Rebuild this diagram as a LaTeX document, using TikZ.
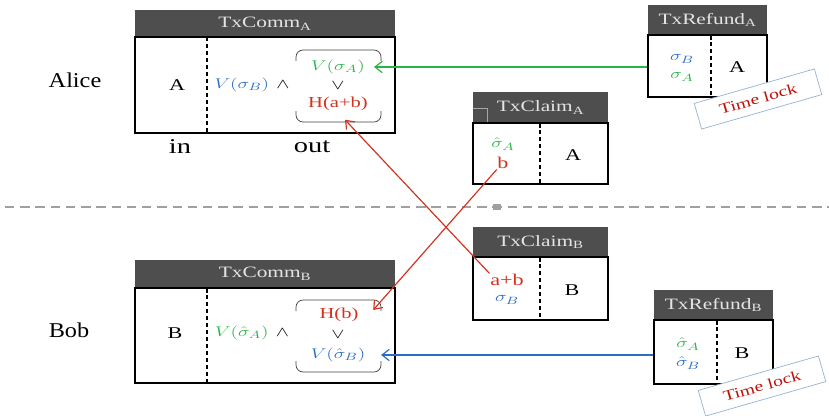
\documentclass[tikz,border=0pt]{standalone}
\usepackage{fontspec}
\setmainfont{Liberation Serif}[FakeStretch=1.35]
\newfontfamily\namefont{Liberation Serif}[FakeStretch=1.15]
\usepackage{graphicx}
\usetikzlibrary{arrows.meta,fit}

\definecolor{hdrgray}{RGB}{78,78,78}
\definecolor{hdrtext}{RGB}{228,228,228}
\definecolor{sgreen}{RGB}{40,180,70}
\definecolor{sblue}{RGB}{45,110,195}
\definecolor{sred}{RGB}{210,50,30}
\definecolor{lockred}{RGB}{190,20,10}
\definecolor{lockblue}{RGB}{150,180,210}
\definecolor{sepgray}{RGB}{160,160,160}

\newcommand{\wm}[1]{\scalebox{1.4}[1]{$#1$}}

\begin{document}
\begin{tikzpicture}[x=0.3mm,y=-0.3mm,
  hdr/.style={fill=hdrgray, inner sep=0pt},
  body/.style={draw, line width=1pt, inner sep=0pt},
  ttl/.style={text=hdrtext, font=\fontsize{13.5}{15}\selectfont},
  cell/.style={font=\fontsize{14}{16}\selectfont, inner sep=0.5pt},
  sig/.style={font=\fontsize{13}{14}\selectfont, inner sep=0.5pt},
  party/.style={font=\namefont\fontsize{18}{20}\selectfont},
  io/.style={font=\fontsize{18}{20}\selectfont},
  split/.style={dashed, line width=0.9pt},
  brk/.style={line width=0.6pt, draw=black!75, rounded corners=6pt},
  stub/.style={line width=2.2pt},
  lock/.style={draw=lockblue, fill=white, text=lockred, rotate=16,
    minimum width=37.5mm, minimum height=8mm, line width=0.6pt,
    font=\fontsize{12.5}{14}\selectfont},
  conn/.style={-{Straight Barb[length=2.2mm,width=3.4mm]}, line width=1pt}]
\useasboundingbox (0,0) rectangle (829,416);

% parties and separator
\node[party] (alice) at (75,80) {Alice};
\node[party] (bob) at (69,330) {Bob};
\draw[sepgray, line width=1.2pt, dash pattern=on 8pt off 5pt] (5,207) -- (829,207);
\fill[sepgray] (493,204) rectangle (501,210);

% TxComm_A
\node[hdr, fit={(135,10) (395,37)}] (commAh) {};
\node[ttl] at (commAh) {TxComm\textsubscript{A}};
\node[body, fit={(135,37) (395,133)}] (commA) {};
\draw[split] (207,37) -- (207,133);
\node[cell] (commAin) at (177,85) {A};
\node[sig] (vsb) at (252,85) {\wm{{\color{sblue}V(\sigma_B)}\ \wedge}};
\node[sig] (vsa) at (338,67) {\wm{\color{sgreen}V(\sigma_A)}};
\node[sig] (orA) at (338,86) {\wm{\vee}};
\node[sig, text=sred] (hab) at (338,104) {H(a+b)};
\draw[brk] (296,61) -- (296,50) -- (381,50) -- (381,61);
\draw[brk] (296,111) -- (296,122) -- (381,122) -- (381,111);
\draw[stub] (395,57) -- (395,77);
\node[io] (inA) at (180,147) {in};
\node[io] (outA) at (312,147) {out};

% TxRefund_A
\node[hdr, fit={(648,5) (767,35)}] (refAh) {};
\node[ttl] at (refAh) {TxRefund\textsubscript{A}};
\node[body, fit={(648,35) (767,97)}] (refA) {};
\draw[split] (711,35) -- (711,97);
\draw[stub] (711,35) -- (711,40);
\node[sig] (refAsb) at (682,59) {\wm{\color{sblue}\sigma_B}};
\node[sig] (refAsa) at (682,77) {\wm{\color{sgreen}\sigma_A}};
\node[cell] (refAout) at (737,67) {A};
\node[lock] (lockA) at (758,99) {Time lock};

% TxClaim_A
\node[hdr, fit={(473,92) (608,123)}] (clmAh) {};
\node[ttl] at (clmAh) {TxClaim\textsubscript{A}};
\draw[black!35, line width=0.5pt] (473,108) -- (487,108) -- (487,123);
\node[body, fit={(473,123) (608,184)}] (clmA) {};
\draw[split] (540,123) -- (540,184);
\draw[stub] (540,123) -- (540,128);
\node[sig] (clmAsa) at (503,144) {\wm{\color{sgreen}\hat\sigma_A}};
\node[cell, text=sred] (clmAb) at (503,163) {b};
\node[cell] (clmAout) at (573,155) {A};

% TxClaim_B
\node[hdr, fit={(473,227) (608,257)}] (clmBh) {};
\node[ttl] at (clmBh) {TxClaim\textsubscript{B}};
\node[body, fit={(473,257) (608,320)}] (clmB) {};
\draw[split] (540,257) -- (540,320);
\draw[stub] (540,257) -- (540,262);
\node[cell, text=sred] (apb) at (507,280) {a+b};
\node[sig] (clmBsb) at (507,300) {\wm{\color{sblue}\sigma_B}};
\node[cell] (clmBout) at (572,290) {B};

% TxComm_B
\node[hdr, fit={(135,260) (395,288)}] (commBh) {};
\node[ttl] at (commBh) {TxComm\textsubscript{B}};
\node[body, fit={(135,288) (395,383)}] (commB) {};
\draw[split] (207,288) -- (207,383);
\draw[stub] (207,288) -- (207,293);
\node[cell] (commBin) at (175,333) {B};
\node[sig] (vsah) at (252,333) {\wm{{\color{sgreen}V(\hat\sigma_A)}\ \wedge}};
\node[sig, text=sred] (hb) at (339,315) {H(b)};
\node[sig] (orB) at (338,335) {\wm{\vee}};
\node[sig] (vsbh) at (338,355) {\wm{\color{sblue}V(\hat\sigma_B)}};
\draw[brk] (296,311) -- (296,300) -- (381,300) -- (381,311);
\draw[brk] (296,361) -- (296,372) -- (381,372) -- (381,361);
\draw[stub] (395,298) -- (395,313);
\draw[stub] (395,345) -- (395,363);

% TxRefund_B
\node[hdr, fit={(654,290) (773,320)}] (refBh) {};
\node[ttl] at (refBh) {TxRefund\textsubscript{B}};
\node[body, fit={(654,320) (773,384)}] (refB) {};
\draw[split] (717,320) -- (717,384);
\draw[stub] (717,320) -- (717,325);
\draw[stub] (654,345) -- (654,363);
\node[sig] (refBsa) at (688,344) {\wm{\color{sgreen}\hat\sigma_A}};
\node[sig] (refBsb) at (688,363) {\wm{\color{sblue}\hat\sigma_B}};
\node[cell] (refBout) at (742,353) {B};
\node[lock] (lockB) at (762,386) {Time lock};

% connectors
\draw[conn, sgreen] (refA.west |- vsa) -- ([xshift=2.5mm]vsa.east);
\draw[conn, sblue] (refB.west |- vsbh) -- ([xshift=4.5mm]vsbh.east);
\draw[conn, sred] (apb.north west) -- ([shift={(7,8)}]hab.south);
\draw[conn, sred] (clmAb.south west) -- ([shift={(14,-5)}]hb.east);
\end{tikzpicture}
\end{document}
